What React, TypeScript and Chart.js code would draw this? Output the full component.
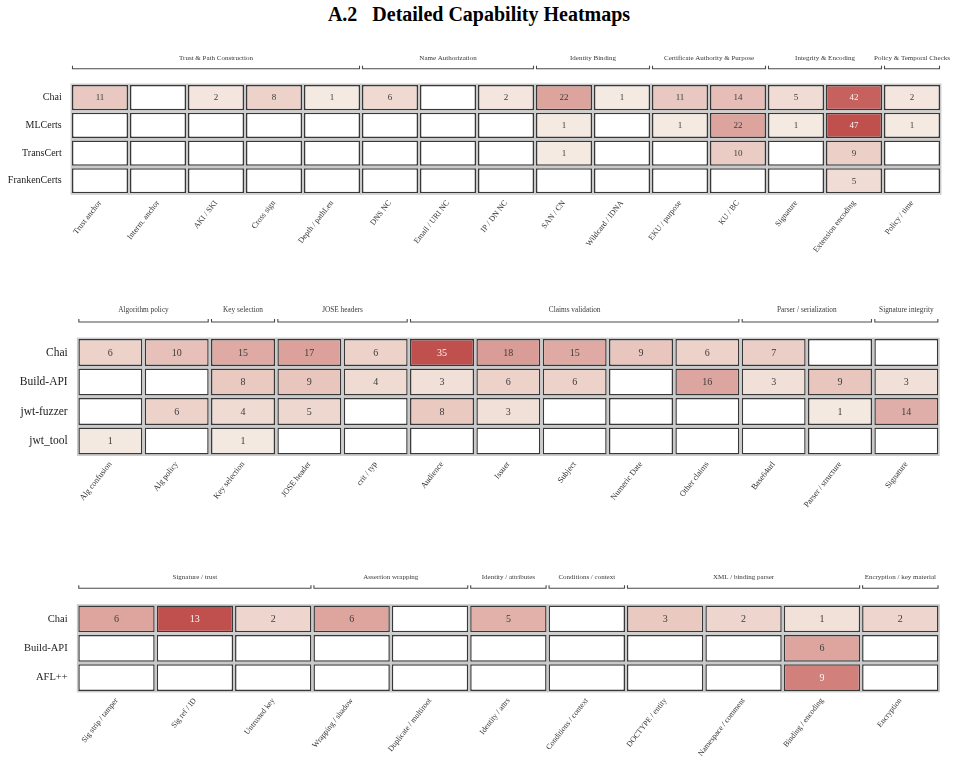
import React, { useEffect, useRef } from 'react';
import { Chart, registerables } from 'chart.js';

Chart.register(...registerables);

const FONT = "'Liberation Serif', 'Times New Roman', Times, serif";
const TITLE_NUM = 'A.2';
const TITLE_TEXT = 'Detailed Capability Heatmaps';

// ---------- Panel 1: X.509 certificates ----------
const x509Columns = [
  'Trust anchor', 'Interm. anchor', 'AKI / SKI', 'Cross sign', 'Depth / pathLen',
  'DNS NC', 'Email / URI NC', 'IP / DN NC', 'SAN / CN', 'Wildcard / IDNA',
  'EKU / purpose', 'KU / BC', 'Signature', 'Extension encoding', 'Policy / time',
];
const x509Rows = ['Chai', 'MLCerts', 'TransCert', 'FrankenCerts'];
const x509Chai = [11, 0, 2, 8, 1, 6, 0, 2, 22, 1, 11, 14, 5, 42, 2];
const x509MLCerts = [0, 0, 0, 0, 0, 0, 0, 0, 1, 0, 1, 22, 1, 47, 1];
const x509TransCert = [0, 0, 0, 0, 0, 0, 0, 0, 1, 0, 0, 10, 0, 9, 0];
const x509FrankenCerts = [0, 0, 0, 0, 0, 0, 0, 0, 0, 0, 0, 0, 0, 5, 0];
const x509Groups = [
  'Trust & Path Construction', 'Name Authorization', 'Identity Binding',
  'Certificate Authority & Purpose', 'Integrity & Encoding', 'Policy & Temporal Checks',
];
const x509GroupSizes = [5, 3, 2, 2, 2, 1];

// ---------- Panel 2: JWT ----------
const jwtColumns = [
  'Alg confusion', 'Alg policy', 'Key selection', 'JOSE header', 'crit / typ',
  'Audience', 'Issuer', 'Subject', 'Numeric Date', 'Other claims',
  'Base64url', 'Parser / structure', 'Signature',
];
const jwtRows = ['Chai', 'Build-API', 'jwt-fuzzer', 'jwt_tool'];
const jwtChai = [6, 10, 15, 17, 6, 35, 18, 15, 9, 6, 7, 0, 0];
const jwtBuildApi = [0, 0, 8, 9, 4, 3, 6, 6, 0, 16, 3, 9, 3];
const jwtFuzzer = [0, 6, 4, 5, 0, 8, 3, 0, 0, 0, 0, 1, 14];
const jwtTool = [1, 0, 1, 0, 0, 0, 0, 0, 0, 0, 0, 0, 0];
const jwtGroups = [
  'Algorithm policy', 'Key selection', 'JOSE headers', 'Claims validation',
  'Parser / serialization', 'Signature integrity',
];
const jwtGroupSizes = [2, 1, 2, 5, 2, 1];

// ---------- Panel 3: SAML ----------
const samlColumns = [
  'Sig strip / tamper', 'Sig ref / ID', 'Untrusted key', 'Wrapping / shadow',
  'Duplicate / multiroot', 'Identity / attrs', 'Conditions / context',
  'DOCTYPE / entity', 'Namespace / comment', 'Binding / encoding', 'Encryption',
];
const samlRows = ['Chai', 'Build-API', 'AFL++'];
const samlChai = [6, 13, 2, 6, 0, 5, 0, 3, 2, 1, 2];
const samlBuildApi = [0, 0, 0, 0, 0, 0, 0, 0, 0, 6, 0];
const samlAfl = [0, 0, 0, 0, 0, 0, 0, 0, 0, 9, 0];
const samlGroups = [
  'Signature / trust', 'Assertion wrapping', 'Identity / attributes',
  'Conditions / context', 'XML / binding parser', 'Encryption / key material',
];
const samlGroupSizes = [3, 2, 1, 1, 3, 1];

// ---------- colour scale ----------
const LOW = [246, 237, 228];
const HIGH = [192, 80, 77];
function cellColor(t: number): string {
  const c = LOW.map((l, i) => Math.round(l + (HIGH[i] - l) * t));
  return `rgb(${c[0]},${c[1]},${c[2]})`;
}

type Spec = {
  columns: string[];
  rows: string[];
  values: number[][];
  groups: string[];
  groupSizes: number[];
  top: number;
  height: number;
  axisLeft: number;
  padRight: number;
  padTop: number;
  xAxisH: number;
  barPct: number;
  rowFrac: number;
  rowFont: number;
  valueFont: number;
  tickFont: number;
  groupFont: number;
  bracketOffset: number;
  labelOffset: number;
  tickPad: number;
  rowPad: number;
};

const specs: Spec[] = [
  {
    columns: x509Columns, rows: x509Rows,
    values: [x509Chai, x509MLCerts, x509TransCert, x509FrankenCerts],
    groups: x509Groups, groupSizes: x509GroupSizes,
    top: 40, height: 250, axisLeft: 71, padRight: 15, padTop: 43.75, xAxisH: 95.4,
    barPct: 0.9655, rowFrac: 0.045, rowFont: 10, valueFont: 9, tickFont: 8, groupFont: 7,
    bracketOffset: 15, labelOffset: 10.5, tickPad: 4, rowPad: 9.3,
  },
  {
    columns: jwtColumns, rows: jwtRows,
    values: [jwtChai, jwtBuildApi, jwtFuzzer, jwtTool],
    groups: jwtGroups, groupSizes: jwtGroupSizes,
    top: 295, height: 250, axisLeft: 77.2, padRight: 16.5, padTop: 42.75, xAxisH: 89.25,
    barPct: 0.965, rowFrac: 0.042, rowFont: 11.5, valueFont: 10, tickFont: 8.2, groupFont: 7.3,
    bracketOffset: 15.75, labelOffset: 11.7, tickPad: 4, rowPad: 9.5,
  },
  {
    columns: samlColumns, rows: samlRows,
    values: [samlChai, samlBuildApi, samlAfl],
    groups: samlGroups, groupSizes: samlGroupSizes,
    top: 560, height: 210, axisLeft: 77.3, padRight: 16.5, padTop: 44.3, xAxisH: 77.7,
    barPct: 0.975, rowFrac: 0.045, rowFont: 10.5, valueFont: 10, tickFont: 7.8, groupFont: 7,
    bracketOffset: 16, labelOffset: 11.6, tickPad: 4, rowPad: 9.6,
  },
];

function makePlugin(spec: Spec) {
  const maxVal = Math.max(...spec.values.map((r) => Math.max(...r)));
  return {
    id: 'heatcells',
    beforeDatasetsDraw(chart: any) {
      const ctx = chart.ctx;
      ctx.save();
      ctx.strokeStyle = '#c9c9c9';
      ctx.lineWidth = 1.4;
      chart.data.datasets.forEach((_: any, di: number) => {
        const meta = chart.getDatasetMeta(di);
        meta.data.forEach((el: any) => {
          const p = el.getProps(['x', 'y', 'base', 'width'], true);
          const top = Math.min(p.y, p.base);
          const h = Math.abs(p.base - p.y);
          ctx.strokeRect(p.x - p.width / 2 - 0.7, top - 0.7, p.width + 1.4, h + 1.4);
        });
      });
      ctx.restore();
    },
    afterDatasetsDraw(chart: any) {
      const ctx = chart.ctx;
      ctx.save();
      ctx.font = `${spec.valueFont}px ${FONT}`;
      ctx.textAlign = 'center';
      ctx.textBaseline = 'middle';
      chart.data.datasets.forEach((_: any, di: number) => {
        const meta = chart.getDatasetMeta(di);
        meta.data.forEach((el: any, i: number) => {
          const v = spec.values[di][i];
          if (!v) return;
          const t = v / maxVal;
          const c = el.getCenterPoint();
          ctx.fillStyle = t > 0.6 ? '#f7f7f7' : '#3c3c3c';
          ctx.fillText(String(v), c.x, c.y + 0.5);
        });
      });
      ctx.restore();
    },
    afterDraw(chart: any) {
      const ctx = chart.ctx;
      const xs = chart.scales.x;
      const n = spec.columns.length;
      const barW = (xs.width / n) * spec.barPct;
      const yLine = chart.chartArea.top - spec.bracketOffset;
      ctx.save();
      ctx.strokeStyle = '#4a4a4a';
      ctx.lineWidth = 1.1;
      ctx.fillStyle = '#3a3a3a';
      ctx.font = `${spec.groupFont}px ${FONT}`;
      ctx.textAlign = 'center';
      ctx.textBaseline = 'middle';
      let start = 0;
      spec.groups.forEach((g, gi) => {
        const end = start + spec.groupSizes[gi] - 1;
        const x0 = xs.getPixelForValue(start) - barW / 2 + 0.5;
        const x1 = xs.getPixelForValue(end) + barW / 2 - 0.5;
        ctx.beginPath();
        ctx.moveTo(x0, yLine - 3);
        ctx.lineTo(x0, yLine);
        ctx.lineTo(x1, yLine);
        ctx.lineTo(x1, yLine - 3);
        ctx.stroke();
        ctx.fillText(g, (x0 + x1) / 2, yLine - spec.labelOffset);
        start = end + 1;
      });
      ctx.restore();
    },
  };
}

function Heatmap({ spec }: { spec: Spec }) {
  const ref = useRef<HTMLCanvasElement>(null);
  useEffect(() => {
    const maxVal = Math.max(...spec.values.map((r) => Math.max(...r)));
    const f = spec.rowFrac;
    const datasets = spec.rows.map((row, ri) => ({
      label: row,
      data: spec.values[ri].map(() => [ri + f, ri + 1 - f]),
      backgroundColor: spec.values[ri].map((v) => (v > 0 ? cellColor(v / maxVal) : '#ffffff')),
      borderColor: '#383838',
      borderWidth: 1.5,
      borderSkipped: false as any,
      grouped: false,
      barPercentage: spec.barPct,
      categoryPercentage: 1,
    }));
    const chart = new Chart(ref.current!, {
      type: 'bar',
      data: { labels: spec.columns, datasets: datasets as any },
      options: {
        animation: false,
        responsive: false,
        devicePixelRatio: 1,
        layout: { padding: { left: 0, right: spec.padRight, top: spec.padTop, bottom: 0 } },
        plugins: { legend: { display: false }, tooltip: { enabled: false }, title: { display: false } },
        scales: {
          x: {
            type: 'category',
            position: 'bottom',
            grid: { display: false, drawTicks: false },
            border: { display: false },
            ticks: {
              autoSkip: false,
              minRotation: 52,
              maxRotation: 52,
              padding: spec.tickPad,
              color: '#333',
              font: { family: FONT, size: spec.tickFont },
            },
            afterFit: (s: any) => { s.height = spec.xAxisH; },
          },
          y: {
            type: 'linear',
            min: 0,
            max: spec.rows.length,
            reverse: true,
            grid: { display: false, drawTicks: false },
            border: { display: false },
            afterBuildTicks: (s: any) => { s.ticks = spec.rows.map((_, i) => ({ value: i + 0.5 })); },
            ticks: {
              padding: spec.rowPad,
              color: '#222',
              font: { family: FONT, size: spec.rowFont },
              callback: (v: any) => spec.rows[Math.floor(Number(v))] ?? '',
            },
            afterFit: (s: any) => { s.width = spec.axisLeft; },
          },
        },
      },
      plugins: [makePlugin(spec)],
    });
    return () => chart.destroy();
  }, [spec]);
  return (
    <canvas
      ref={ref}
      width={956}
      height={spec.height}
      style={{ position: 'absolute', left: 0, top: spec.top, width: 956, height: spec.height }}
    />
  );
}

export default function App() {
  return (
    <div style={{ position: 'absolute', left: 0, top: 0, width: 956, height: 770, background: '#fff', overflow: 'hidden' }}>
      <div
        style={{
          position: 'absolute', left: 0, top: 3, width: 958, textAlign: 'center',
          fontFamily: FONT, fontWeight: 'bold', fontSize: 20, lineHeight: '23px', color: '#000',
        }}
      >
        <span>{TITLE_NUM}</span>
        <span style={{ marginLeft: 15 }}>{TITLE_TEXT}</span>
      </div>
      {specs.map((s, i) => (
        <Heatmap key={i} spec={s} />
      ))}
    </div>
  );
}
